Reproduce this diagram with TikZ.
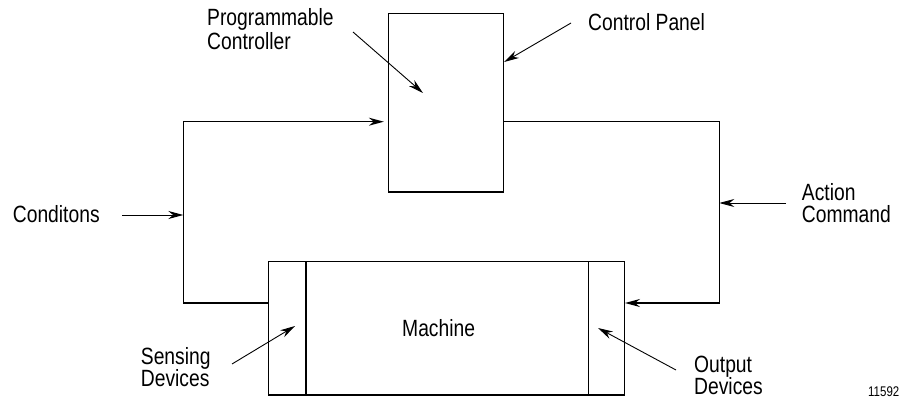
\documentclass[tikz,border=0pt]{standalone}
\usepackage{fontspec}
\setmainfont{Liberation Sans}[FakeStretch=0.82]
\usetikzlibrary{arrows.meta}
\begin{document}
\begin{tikzpicture}[x=1pt,y=-1pt,
      box/.style={draw,line width=1.3pt,inner sep=0pt},
      wire/.style={line width=1.3pt},
      pointer/.style={line width=0.9pt},
      tip/.style={-{Stealth[length=15pt,width=8pt]}},
      lbl/.style={anchor=base west,inner sep=0pt,align=left,
        font=\fontsize{23.5}{22}\selectfont},
      ]
        \useasboundingbox (0,0) rectangle (909,398);

        \node [box,minimum width=115pt,minimum height=178.7pt] (ctrl) at (446,102.7) {};
        \node [box,minimum width=355.6pt,minimum height=133.3pt] (mach) at (446.5,328.3) {};
        \draw [wire] ([xshift=38pt]mach.north west) -- ([xshift=38pt]mach.south west);
        \draw [wire] ([xshift=-36.7pt]mach.north east) -- ([xshift=-36.7pt]mach.south east);
        \node [lbl] (mtext) at (402,336.7) {Machine};

        % feedback loop
        \coordinate (ltop) at (183.3,121.7);
        \coordinate (lbot) at (183.3,303);
        \coordinate (rtop) at (719.3,121.7);
        \coordinate (rbot) at (719.3,303);
        \draw [wire,tip,shorten >=4pt]
          (mach.west |- lbot) -- (lbot) -- (ltop) -- (ctrl.west |- ltop);
        \draw [wire,tip]
          (ctrl.east |- rtop) -- (rtop) -- (rbot) -- (mach.east |- rbot);

        % labels (base = last line)
        \node [lbl,font=\fontsize{23.5}{24}\selectfont] (prog) at (207,50) {Programmable\\Controller};
        \node [lbl] (panel) at (588,30.7) {Control Panel};
        \node [lbl] (cond) at (12.7,222) {Conditons};
        \node [lbl] (act) at (801.7,222.7) {Action\\Command};
        \node [lbl] (sens) at (140.7,386) {Sensing\\Devices};
        \node [lbl] (outp) at (694,394) {Output\\Devices};
        \node [lbl,font=\fontsize{14}{16}\selectfont] (fig) at (868,396) {11592};

        % pointers
        \coordinate (progS) at (353,32);
        \coordinate (progT) at (423,93);
        \coordinate (panelS) at (571,23);
        \coordinate (panelT) at (503.5,62);
        \coordinate (condS) at (122,215);
        \coordinate (actS) at (786,203);
        \coordinate (sensS) at (232,364);
        \coordinate (sensT) at (295,326);
        \coordinate (outpS) at (676,370);
        \coordinate (outpT) at (598,328);
        \draw [pointer,tip] (progS) -- (progT);
        \draw [pointer,tip] (panelS) -- (ctrl.east |- panelT);
        \draw [pointer,tip] (condS) -- (condS -| ltop);
        \draw [pointer,tip] (actS) -- (actS -| rtop);
        \draw [pointer,tip] (sensS) -- (sensT);
        \draw [pointer,tip] (outpS) -- (outpT);
      \end{tikzpicture}
\end{document}
